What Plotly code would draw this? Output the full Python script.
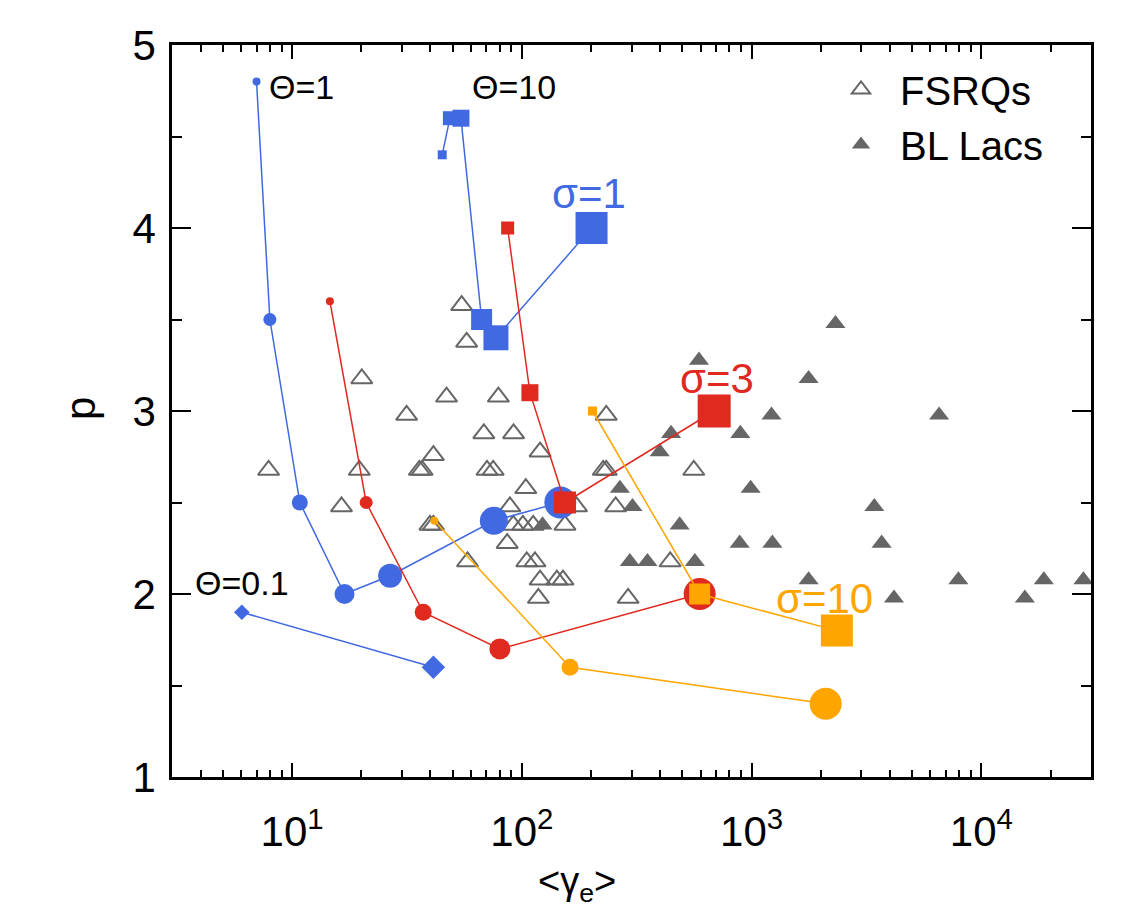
import math
import plotly.graph_objects as go

# ---------------- data ----------------
# observed sources: <gamma_e>, p
fsrq_gamma = [7.9, 16.4, 19.6, 20.1, 31.5, 35.8, 36.8, 39.8, 41.2, 41.2,
              47.0, 54.7, 57.5, 58.0, 68.3, 70.5, 75.0, 79.0, 86.3, 88.7,
              91.7, 92.0, 101, 104, 105, 112, 114, 118, 120, 120,
              142, 151, 154, 173, 226, 233, 233, 256, 290, 442, 560]
fsrq_p = [2.7, 2.5, 2.7, 3.2, 3.0, 2.7, 2.7, 2.4, 2.4, 2.78,
          3.1, 3.6, 3.4, 2.2, 2.9, 2.7, 2.7, 3.1, 2.3, 2.5,
          2.4, 2.9, 2.4, 2.6, 2.2, 2.4, 2.2, 2.0, 2.1, 2.8,
          2.1, 2.1, 2.4, 2.5, 2.7, 2.7, 3.0, 2.5, 2.0, 2.2, 2.7]

bllac_gamma = [123, 267, 295, 303, 352, 398, 446, 486, 566, 590,
               893, 887, 990, 1220, 1231, 1770, 1770, 2316, 3420, 3680,
               4165, 6546, 7940, 15460, 18700, 27800]
bllac_p = [2.4, 2.6, 2.2, 2.5, 2.2, 2.8, 2.9, 2.4, 2.2, 3.3,
           2.9, 2.3, 2.6, 3.0, 2.3, 3.2, 2.1, 3.5, 2.5, 2.3,
           2.0, 3.0, 2.1, 2.0, 2.1, 2.1]

# simulation tracks
th1_s1_gamma = [7.0, 8.0, 10.8, 16.9, 26.7, 75.5, 147]
th1_s1_p = [4.8, 3.5, 2.5, 2.0, 2.1, 2.4, 2.5]
th1_s3_gamma = [14.6, 21.0, 37.2, 80.2, 594]
th1_s3_p = [3.6, 2.5, 1.9, 1.7, 2.0]
th1_s10_gamma = [41.6, 162, 2100]
th1_s10_p = [2.4, 1.6, 1.4]

th10_s1_gamma = [45.0, 48.6, 54.3, 66.8, 77.1, 201]
th10_s1_p = [4.4, 4.6, 4.6, 3.5, 3.4, 4.0]
th10_s3_gamma = [86.7, 108.4, 154, 687]
th10_s3_p = [4.0, 3.1, 2.5, 3.0]
th10_s10_gamma = [203, 594, 2350]
th10_s10_p = [3.0, 2.0, 1.8]

th01_s1_gamma = [6.04, 41.2]
th01_s1_p = [1.9, 1.6]

x_tick_vals = [10, 100, 1000, 10000]
x_tick_text = ["10<sup>1</sup>", "10<sup>2</sup>", "10<sup>3</sup>", "10<sup>4</sup>"]
y_tick_vals = [1, 2, 3, 4, 5]

# ---------------- style ----------------
BLUE = "#4169E1"
RED = "#E0291F"
ORANGE = "#FFA500"
GRAY = "#666666"
FONT = "Liberation Sans, Arial, Helvetica, sans-serif"
W, H = 1146, 917
ML, MR, MT, MB = 172, 55, 45, 140
PLOT_H = H - MT - MB
TRI_SIZE = 18.5
TRI_FILLED_SIZE = 17.5
# plotly's triangle-up is drawn above its anchor by 0.457*r; shift its axis so
# the symbol is centred on the value, as in the reference
TRI_SHIFT = 0.457 * (TRI_SIZE / 2) / PLOT_H * 4.0

size_th1_s1 = [8, 13, 16, 20, 24, 28, 32]
size_th1_s3 = [8, 13, 17, 21, 32]
size_th1_s10 = [8, 17, 32]
size_th10_s1 = [9, 14, 17, 21, 25, 32]
size_th10_s3 = [13, 17, 22, 33]
size_th10_s10 = [9, 21, 32]
size_th01_s1 = [12, 18]

fig = go.Figure()

fig.add_trace(go.Scatter(
    x=fsrq_gamma, y=fsrq_p, mode="markers", name="FSRQs", yaxis="y",
    marker=dict(symbol="triangle-up-open", size=TRI_SIZE, color=GRAY, opacity=1,
                line=dict(width=2, color=GRAY)),
))
fig.add_trace(go.Scatter(
    x=bllac_gamma, y=bllac_p, mode="markers", name="BL Lacs", yaxis="y",
    marker=dict(symbol="triangle-up", size=TRI_FILLED_SIZE, color=GRAY, opacity=1,
                line=dict(width=0)),
))

tracks = [
    (th1_s1_gamma, th1_s1_p, BLUE, "circle", size_th1_s1),
    (th1_s3_gamma, th1_s3_p, RED, "circle", size_th1_s3),
    (th1_s10_gamma, th1_s10_p, ORANGE, "circle", size_th1_s10),
    (th10_s1_gamma, th10_s1_p, BLUE, "square", size_th10_s1),
    (th10_s3_gamma, th10_s3_p, RED, "square", size_th10_s3),
    (th10_s10_gamma, th10_s10_p, ORANGE, "square", size_th10_s10),
    (th01_s1_gamma, th01_s1_p, BLUE, "diamond", size_th01_s1),
]
for gx, gy, col, sym, sz in tracks:
    fig.add_trace(go.Scatter(
        x=gx, y=gy, mode="lines+markers", showlegend=False, yaxis="y2",
        line=dict(color=col, width=1.5),
        marker=dict(symbol=sym, size=sz, color=col, opacity=1, line=dict(width=0)),
    ))

def px_x(px):
    return (px - ML) / (W - ML - MR)

def px_y(py):
    return (H - MB - py) / PLOT_H

labels = [
    ("\u0398=1", 301, 87, "black", 34),
    ("\u0398=10", 514, 87, "black", 34),
    ("\u0398=0.1", 242, 583, "black", 34),
    ("\u03c3=1", 589, 193, BLUE, 42),
    ("\u03c3=3", 717, 378, RED, 42),
    ("\u03c3=10", 824, 598, ORANGE, 42),
]
for txt, lx, ly, col, fs in labels:
    fig.add_annotation(text=txt, x=px_x(lx), y=px_y(ly), xref="paper", yref="paper",
                       showarrow=False, xanchor="center", yanchor="middle",
                       font=dict(family=FONT, size=fs, color=col))

# axis titles
fig.add_annotation(text="&lt;\u03b3<sub>e</sub>&gt;", x=px_x(577), y=px_y(884),
                   xref="paper", yref="paper", showarrow=False,
                   xanchor="center", yanchor="middle",
                   font=dict(family=FONT, size=38, color="black"))
fig.add_annotation(text="p", x=px_x(80), y=px_y(409), textangle=-90,
                   xref="paper", yref="paper", showarrow=False,
                   xanchor="center", yanchor="middle",
                   font=dict(family=FONT, size=42, color="black"))

axis_common = dict(showline=True, linewidth=2.5, linecolor="black", mirror="ticks",
                   ticks="inside", tickwidth=2, tickcolor="black",
                   showgrid=False, zeroline=False,
                   tickfont=dict(family=FONT, size=42, color="black"))

fig.update_layout(
    width=W, height=H,
    margin=dict(l=ML, r=MR, t=MT, b=MB),
    paper_bgcolor="white", plot_bgcolor="white",
    font=dict(family=FONT, color="black"),
    xaxis=dict(type="log", range=[math.log10(3), math.log10(30000)],
               tickmode="array", tickvals=x_tick_vals, ticktext=x_tick_text,
               ticklen=14, ticklabelstandoff=16,
               minor=dict(ticks="inside", ticklen=7, tickwidth=2, tickcolor="black",
                          dtick="D1"),
               **axis_common),
    yaxis=dict(range=[1 + TRI_SHIFT, 5 + TRI_SHIFT], showline=False, ticks="",
               showticklabels=False, showgrid=False, zeroline=False),
    yaxis2=dict(overlaying="y", side="left", range=[1, 5],
                tickmode="array", tickvals=y_tick_vals,
                ticklen=19, ticklabelstandoff=5,
                minor=dict(ticks="inside", ticklen=10, tickwidth=2, tickcolor="black",
                           dtick=0.5, tick0=1),
                **axis_common),
    legend=dict(x=px_x(822), y=px_y(57), xanchor="left", yanchor="top",
                font=dict(family=FONT, size=40, color="black"),
                bgcolor="rgba(0,0,0,0)", itemwidth=68),
)

fig.write_html("out.html")
